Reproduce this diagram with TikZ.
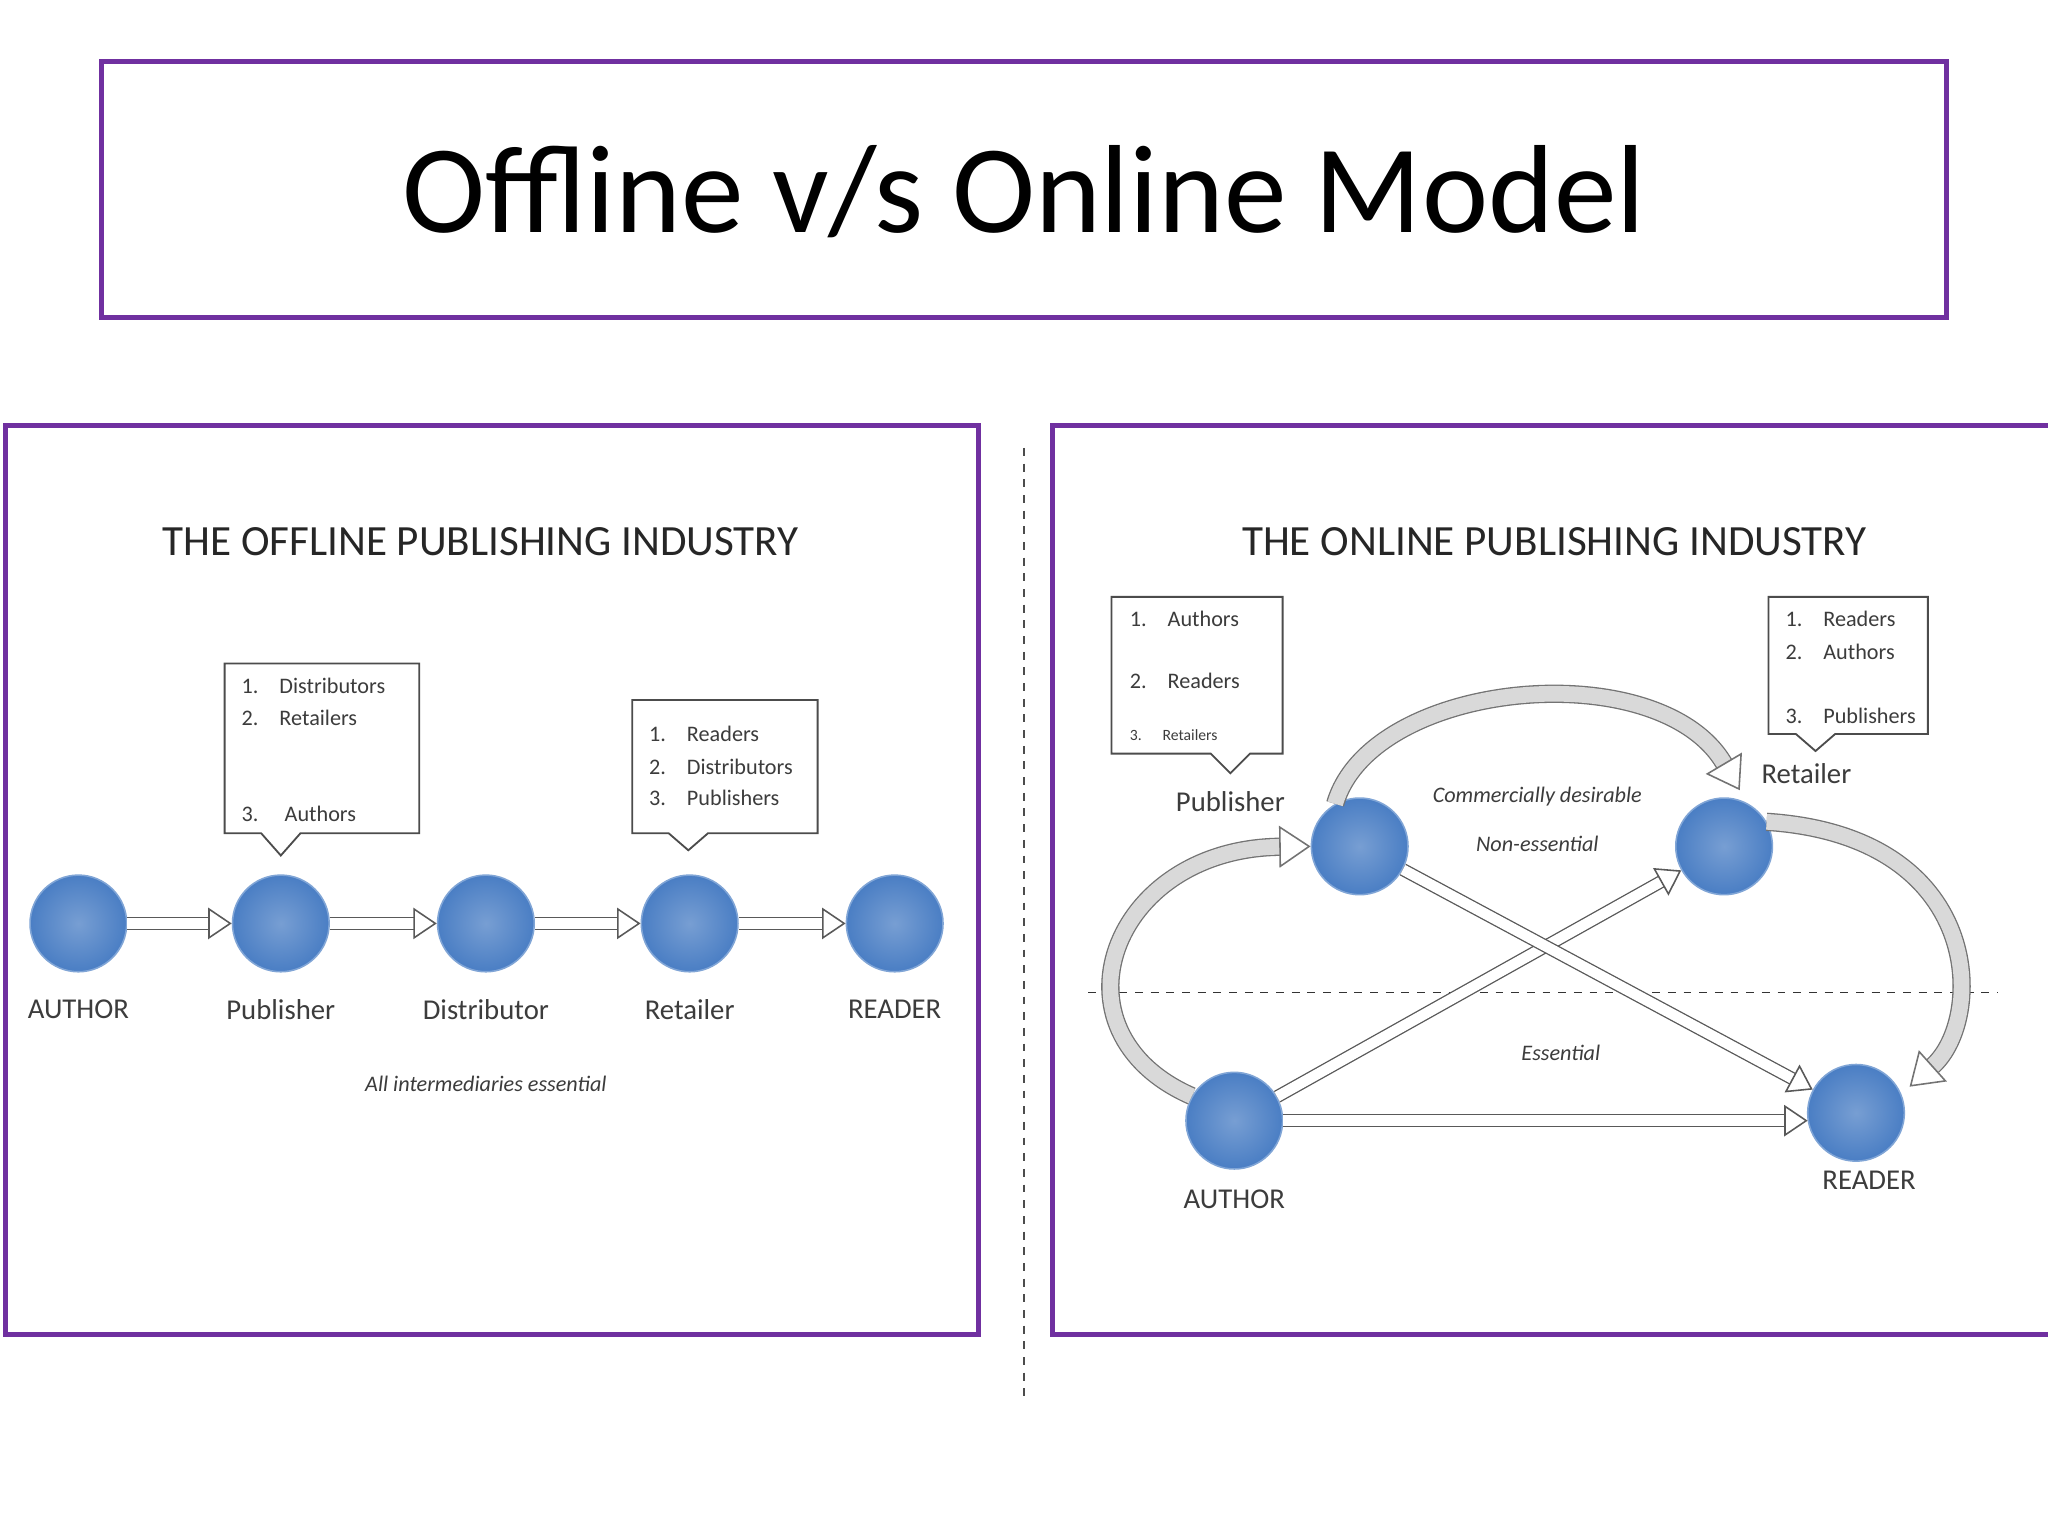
\documentclass[tikz,border=0pt]{standalone}
\usepackage{fontspec}
\setmainfont{Carlito}
\usetikzlibrary{arrows.meta,calc}
\definecolor{purp}{RGB}{112,48,160}
\definecolor{ball}{RGB}{74,126,196}
\definecolor{txt}{RGB}{60,60,60}
\begin{document}
\begin{tikzpicture}[x=0.5pt,y=-0.5pt,
  frame/.style={draw=purp,line width=2pt},
  ballnode/.style={circle,minimum size=37pt,inner sep=0pt,draw=ball!70!white,line width=0.6pt,inner color=ball!75!white,outer color=ball},
  lab/.style={font=\fontsize{11}{13}\selectfont,text=txt},
  sub/.style={font=\fontsize{16.5}{18}\selectfont,text=black!85},
  item/.style={font=\fontsize{8.5}{10}\selectfont,text=txt,anchor=west},
  ital/.style={font=\fontsize{8.5}{10}\selectfont\itshape,text=txt},
  call/.style={draw=black!70,line width=0.7pt,fill=white},
  barr/.style={draw=black!65,line width=0.5pt,double=white,double distance=4pt,
    -{Triangle[open,length=9pt,width=12pt,line width=0.6pt]}},
  carr/.style={draw=black!55,line width=0.5pt,double=gray!30,double distance=6pt,
    -{Triangle[open,length=12pt,width=16pt,line width=0.6pt]}}]
\clip (0,0) rectangle (1568,1176);
\fill[white] (0,0) rectangle (1568,1176);
% title
\draw[frame] (78,47) rectangle (1490,243);
\node (title) at (784,147) {\fontsize{48}{52}\selectfont Offline v/s Online Model};
% panels
\draw[frame] (4,326) rectangle (749,1022);
\draw[frame] (806,326) rectangle (1580,1022);
\draw[dashed,black!70,line width=0.6pt] (784,343) -- (784,1070);
% ---------- left ----------
\node[sub] (lt) at (368,415) {THE OFFLINE PUBLISHING INDUSTRY};
\foreach \n/\x/\t in {a/60/AUTHOR,p/215/Publisher,d/372/Distributor,r/528/Retailer,e/685/READER}{
  \node[ballnode] (L\n) at (\x,707) {};
  \node[lab] (L\n l) at (\x,773) {\t};
}
\draw[barr] (La) -- (Lp);
\draw[barr] (Lp) -- (Ld);
\draw[barr] (Ld) -- (Lr);
\draw[barr] (Lr) -- (Le);
\draw[call] (172,508) -- (321,508) -- (321,638) -- (230,638) -- (215,655) -- (200,638) -- (172,638) -- cycle;
\node[item] (c1a) at (178,525) {1.\hspace{8pt}Distributors};
\node[item] (c1b) at (178,550) {2.\hspace{8pt}Retailers};
\node[item] (c1c) at (178,623) {3.\hspace{10pt}Authors};
\draw[call] (484,536) -- (626,536) -- (626,638) -- (542,638) -- (527,651) -- (512,638) -- (484,638) -- cycle;
\node[item] (c2a) at (490,562) {1.\hspace{8pt}Readers};
\node[item] (c2b) at (490,587) {2.\hspace{8pt}Distributors};
\node[item] (c2c) at (490,611) {3.\hspace{8pt}Publishers};
\node[ital] (ess) at (372,830) {All intermediaries essential};
% ---------- right ----------
\node[sub] (rt) at (1190,415) {THE ONLINE PUBLISHING INDUSTRY};
\draw[dashed,black!80,line width=0.6pt] (833,760) -- (1530,760);
\node[ballnode] (Rp) at (1041,648) {};
\node[ballnode] (Rr) at (1320,648) {};
\node[ballnode] (Ra) at (945,858) {};
\node[ballnode] (Re) at (1421,852) {};
\coordinate (Reh) at (1384,858);
\node[lab] (Rpl) at (942,614) {Publisher};
\node[lab] (Rrl) at (1383,592) {Retailer};
\node[lab] (Ral) at (945,918) {AUTHOR};
\node[lab] (Rel) at (1431,904) {READER};
\draw[call] (851,457) -- (982,457) -- (982,577) -- (957,577) -- (942,592) -- (927,577) -- (851,577) -- cycle;
\node[item] (c3a) at (858,474) {1.\hspace{8pt}Authors};
\node[item] (c3b) at (858,521) {2.\hspace{8pt}Readers};
\node[item,font=\fontsize{6}{7}\selectfont] (c3c) at (858,563) {3.\hspace{8pt}Retailers};
\draw[call] (1354,457) -- (1476,457) -- (1476,562) -- (1405,562) -- (1390,575) -- (1375,562) -- (1354,562) -- cycle;
\node[item] (c4a) at (1360,474) {1.\hspace{8pt}Readers};
\node[item] (c4b) at (1360,499) {2.\hspace{8pt}Authors};
\node[item] (c4c) at (1360,548) {3.\hspace{8pt}Publishers};
\node[ital] (cd) at (1177,610) {Commercially desirable};
\node[ital] (ne) at (1177,646) {Non-essential};
\node[ital] (es) at (1195,806) {Essential};
% straight arrows
\draw[barr] (Ra.east) -- (Reh);
\draw[barr] (Ra) -- (Rr);
\draw[barr] (Rp) -- (Re);
% curved arrows
\draw[carr] (Rp.120) .. controls (1050,520) and (1270,500) .. (1332,605);
\draw[carr] (Ra.150) .. controls (800,790) and (850,650) .. (Rp.west);
\draw[carr] (Rr.30) .. controls (1520,640) and (1520,780) .. (1462,832);
\end{tikzpicture}
\end{document}
